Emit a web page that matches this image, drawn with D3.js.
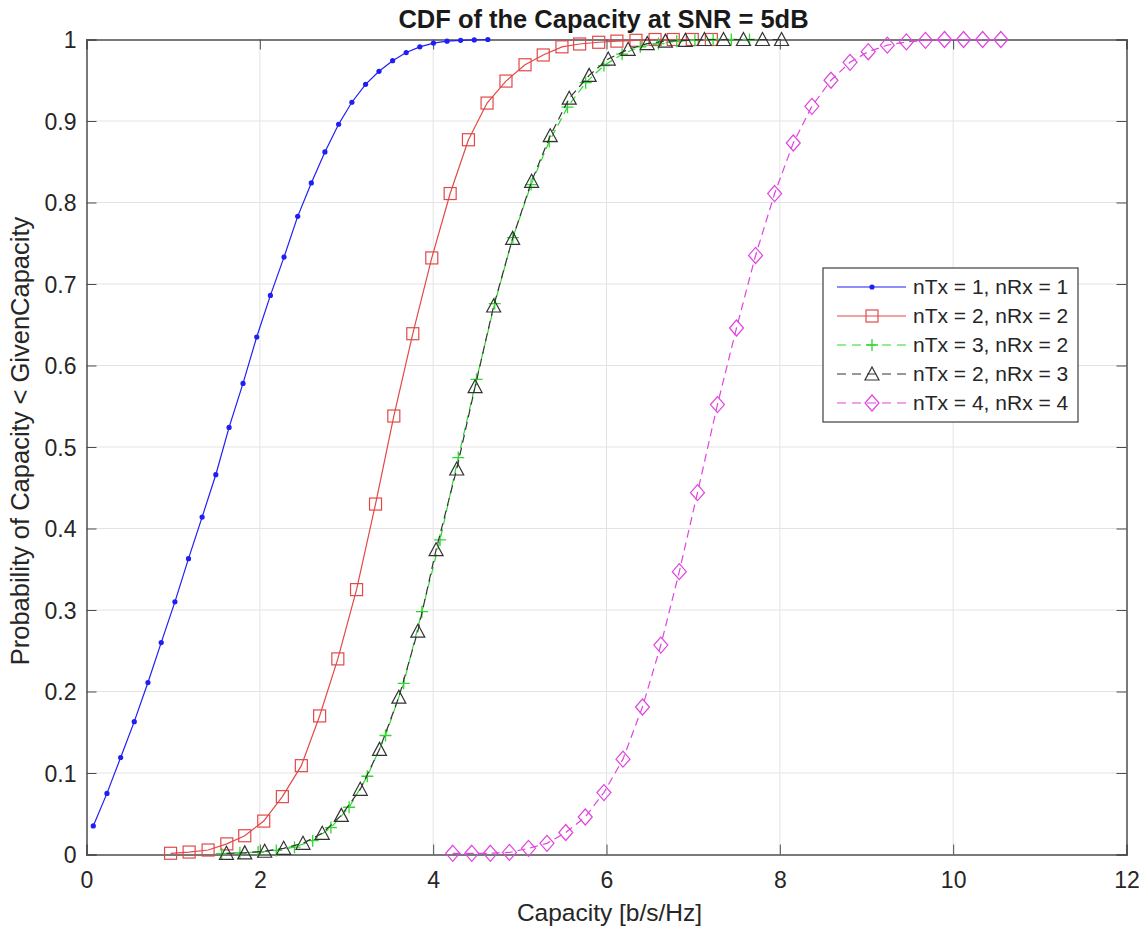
<!DOCTYPE html>
<html><head><meta charset="utf-8">
<script src="https://cdn.jsdelivr.net/npm/d3@7"></script>
<style>body{margin:0;background:#fff;} svg{display:block;}</style>
</head><body>
<script>
// ---- data ----
const seriesNames = ["nTx = 1, nRx = 1","nTx = 2, nRx = 2","nTx = 3, nRx = 2","nTx = 2, nRx = 3","nTx = 4, nRx = 4"];
const x11 = [0.078,0.236,0.394,0.551,0.709,0.862,1.020,1.177,1.334,1.492,1.645,1.806,1.964,2.122,2.279,2.437,2.594,2.751,2.909,3.062,3.220,3.375,3.532,3.689,3.846,4.003,4.160,4.317,4.474,4.631];
const y11 = [0.035,0.075,0.119,0.163,0.211,0.260,0.310,0.363,0.414,0.466,0.524,0.578,0.635,0.686,0.733,0.783,0.824,0.862,0.896,0.923,0.945,0.961,0.974,0.984,0.991,0.9956,0.998,0.999,0.9995,1.0];
const x22 = [0.970,1.184,1.403,1.619,1.826,2.045,2.260,2.479,2.690,2.900,3.116,3.335,3.546,3.765,3.984,4.196,4.407,4.622,4.840,5.060,5.270,5.486,5.690,5.910,6.120,6.340,6.560,6.770,6.990,7.210];
const y22 = [0.0015,0.003,0.0055,0.013,0.023,0.041,0.071,0.109,0.170,0.240,0.325,0.430,0.538,0.639,0.732,0.811,0.877,0.922,0.949,0.969,0.981,0.991,0.9945,0.9966,0.998,0.999,1.0,1.0,1.0,1.0];
const x32 = [1.56,1.77,1.98,2.19,2.40,2.61,2.82,3.03,3.24,3.45,3.66,3.87,4.08,4.29,4.50,4.71,4.92,5.13,5.34,5.55,5.76,5.97,6.18,6.39,6.60,6.81,7.02,7.23,7.44,7.65];
const y32 = [0.001,0.002,0.003,0.005,0.009,0.017,0.033,0.058,0.096,0.146,0.210,0.298,0.386,0.487,0.583,0.676,0.757,0.822,0.875,0.917,0.947,0.968,0.982,0.991,0.995,0.998,0.999,1.0,1.0,1.0];
const x23 = [1.615,1.826,2.056,2.275,2.498,2.720,2.940,3.159,3.381,3.604,3.823,4.034,4.272,4.484,4.698,4.917,5.136,5.351,5.570,5.800,6.020,6.250,6.470,6.680,6.910,7.130,7.350,7.580,7.800,8.020];
const y23 = [0.0015,0.002,0.004,0.0076,0.0137,0.026,0.048,0.080,0.129,0.193,0.274,0.374,0.473,0.574,0.673,0.756,0.826,0.882,0.928,0.956,0.976,0.988,0.995,0.998,0.999,1.0,1.0,1.0,1.0,1.0];
const x44 = [4.226,4.445,4.660,4.880,5.100,5.313,5.530,5.755,5.970,6.190,6.415,6.627,6.840,7.050,7.280,7.500,7.720,7.940,8.155,8.370,8.590,8.810,9.020,9.240,9.460,9.680,9.900,10.120,10.340,10.550];
const y44 = [0.0015,0.0015,0.0015,0.0025,0.0076,0.0137,0.027,0.046,0.076,0.117,0.181,0.257,0.347,0.444,0.552,0.646,0.735,0.811,0.873,0.918,0.950,0.972,0.985,0.993,0.997,0.999,1.0,1.0,1.0,1.0];
const xTicks = [0,2,4,6,8,10,12];
const yTicks = [0,0.1,0.2,0.3,0.4,0.5,0.6,0.7,0.8,0.9,1];
const titleText = "CDF of the Capacity at SNR = 5dB";
const xLabel = "Capacity [b/s/Hz]";
const yLabel = "Probability of Capacity < GivenCapacity";

// ---- drawing ----
const W = 1141, H = 934;
const L = 86.5, R = 1126.5, T = 39.5, B = 854.5;
const font = "'Liberation Sans', Arial, Helvetica, sans-serif";
const svg = d3.select("body").append("svg").attr("width", W).attr("height", H);
const x = d3.scaleLinear().domain([0,12]).range([L,R]);
const y = d3.scaleLinear().domain([0,1]).range([B,T]);

// grid
const g = svg.append("g");
g.selectAll(".gx").data(xTicks.slice(1,-1)).enter().append("line")
  .attr("x1",d=>x(d)).attr("x2",d=>x(d)).attr("y1",T).attr("y2",B)
  .attr("stroke","#e3e3e3").attr("stroke-width",1);
g.selectAll(".gy").data(yTicks.slice(1,-1)).enter().append("line")
  .attr("y1",d=>y(d)).attr("y2",d=>y(d)).attr("x1",L).attr("x2",R)
  .attr("stroke","#e3e3e3").attr("stroke-width",1);

// axes
const axColor = "#4d4d4d";
const tickFont = 23;
const xAx = svg.append("g").attr("transform",`translate(0,${B})`)
  .call(d3.axisBottom(x).tickValues(xTicks).tickSize(-10).tickFormat(d3.format("d")));
const xAxTop = svg.append("g").attr("transform",`translate(0,${T})`)
  .call(d3.axisTop(x).tickValues(xTicks).tickSize(-10).tickFormat(""));
const yAx = svg.append("g").attr("transform",`translate(${L},0)`)
  .call(d3.axisLeft(y).tickValues(yTicks).tickSize(-10).tickPadding(10).tickFormat(d=>d===0?"0":(d===1?"1":d3.format(".1f")(d))));
const yAxR = svg.append("g").attr("transform",`translate(${R},0)`)
  .call(d3.axisRight(y).tickValues(yTicks).tickSize(-10).tickFormat(""));
[xAx,xAxTop,yAx,yAxR].forEach(a=>{
  a.select(".domain").attr("stroke",axColor).attr("stroke-width",1.5);
  a.selectAll(".tick line").attr("stroke",axColor).attr("stroke-width",1);
  a.selectAll("text").attr("font-family",font).attr("font-size",tickFont).attr("fill","#262626");
});
xAx.selectAll(".tick text").attr("y", 888 - B).attr("dy", 0);
yAx.selectAll(".tick text").attr("dy", "0.36em");

// series
const line = d3.line().x(d=>x(d[0])).y(d=>y(d[1]));
const zip = (a,b)=>a.map((v,i)=>[v,b[i]]);
const series = [
  {name:seriesNames[0], xs:x11, ys:y11, color:"#1f1ff5", dash:null, marker:"dot"},
  {name:seriesNames[1], xs:x22, ys:y22, color:"#e34848", dash:null, marker:"square"},
  {name:seriesNames[2], xs:x32, ys:y32, color:"#2fd82f", dash:"8,5", marker:"plus"},
  {name:seriesNames[3], xs:x23, ys:y23, color:"#333333", dash:"8,5", marker:"tri"},
  {name:seriesNames[4], xs:x44, ys:y44, color:"#e044e0", dash:"8,5", marker:"diamond"}
];
function drawMarker(sel, type, color){
  if(type==="dot"){
    sel.append("circle").attr("r",2.6).attr("fill",color).attr("stroke","none");
  } else if(type==="square"){
    sel.append("rect").attr("x",-6).attr("y",-6).attr("width",12).attr("height",12)
      .attr("fill","none").attr("stroke",color).attr("stroke-width",1.2);
  } else if(type==="plus"){
    sel.append("path").attr("d","M-6,0H6M0,-6V6").attr("stroke",color).attr("stroke-width",1.3).attr("fill","none");
  } else if(type==="tri"){
    sel.append("path").attr("d","M0,-7L7,6H-7Z").attr("fill","none").attr("stroke",color).attr("stroke-width",1.2);
  } else if(type==="diamond"){
    sel.append("path").attr("d","M0,-8L7,0L0,8L-7,0Z").attr("fill","none").attr("stroke",color).attr("stroke-width",1.2);
  }
}
const plot = svg.append("g");
series.forEach(s=>{
  const data = zip(s.xs,s.ys);
  plot.append("path").datum(data).attr("d",line).attr("fill","none")
    .attr("stroke",s.color).attr("stroke-width",1.2)
    .attr("stroke-dasharray",s.dash);
  const m = plot.append("g").selectAll("g").data(data).enter().append("g")
    .attr("transform",d=>`translate(${x(d[0])},${y(d[1])})`);
  m.each(function(){ drawMarker(d3.select(this), s.marker, s.color); });
});

// title & labels
svg.append("text").attr("x",(L+R)/2 - 3).attr("y",28).attr("text-anchor","middle")
  .attr("font-family",font).attr("font-weight","bold").attr("font-size",25.5).attr("fill","#1a1a1a").text(titleText);
svg.append("text").attr("x",(L+R)/2 + 3).attr("y",921).attr("text-anchor","middle")
  .attr("font-family",font).attr("font-size",24.5).attr("fill","#262626").text(xLabel);
svg.append("text").attr("transform",`translate(29,${(T+B)/2 - 6}) rotate(-90)`).attr("text-anchor","middle")
  .attr("font-family",font).attr("font-size",25.5).attr("fill","#262626").text(yLabel);

// legend
const lg = svg.append("g").attr("transform","translate(823,268)");
lg.append("rect").attr("width",255).attr("height",154).attr("fill","#fff").attr("stroke","#4d4d4d").attr("stroke-width",1.3);
series.forEach((s,i)=>{
  const yy = 19 + i*29;
  const r = lg.append("g").attr("transform",`translate(0,${yy})`);
  r.append("line").attr("x1",14).attr("x2",83).attr("y1",0).attr("y2",0)
    .attr("stroke",s.color).attr("stroke-width",1.2).attr("stroke-dasharray",s.dash?"9,6":null);
  const mk = r.append("g").attr("transform","translate(49,0)");
  drawMarker(mk, s.marker, s.color);
  r.append("text").attr("x",90).attr("y",7).attr("font-family",font).attr("font-size",21)
    .attr("fill","#262626").text(s.name);
});
</script>
</body></html>
